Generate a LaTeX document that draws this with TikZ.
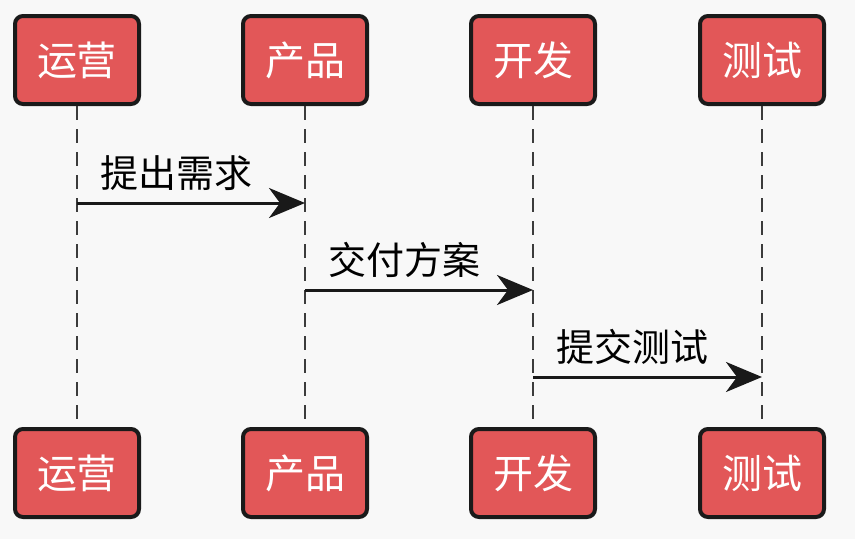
\documentclass[tikz,border=0pt]{standalone}
\usepackage{fontspec}
\newfontfamily\cjk{Noto Sans CJK SC}
\usetikzlibrary{arrows.meta}
\definecolor{bgc}{RGB}{248,248,248}
\definecolor{boxred}{RGB}{226,87,88}
\definecolor{edgec}{RGB}{26,26,26}
\tikzset{
  actor/.style={draw=edgec, line width=4pt, fill=boxred, rounded corners=8pt,
    minimum width=124pt, minimum height=88pt, inner sep=0pt,
    text=white, font=\cjk\fontsize{40}{44}\selectfont},
  lifeline/.style={draw=edgec!85, line width=1.2pt, dash pattern=on 14pt off 9pt},
  msg/.style={draw=black!90, line width=3pt,
    -{Stealth[length=36pt,width=30pt,inset=11pt]}},
  msglabel/.style={anchor=west, inner sep=0pt, font=\cjk\fontsize{38}{42}\selectfont, text=black}
}
\begin{document}
\begin{tikzpicture}[x=1pt,y=-1pt]
\fill[bgc] (0,0) rectangle (855,539);
\useasboundingbox (0,0) rectangle (855,539);
% top actors
\node[actor] (t1) at (77,60) {运营};
\node[actor] (t2) at (305,60) {产品};
\node[actor] (t3) at (533,60) {开发};
\node[actor] (t4) at (762,60) {测试};
% bottom actors
\node[actor] (b1) at (77,473) {运营};
\node[actor] (b2) at (305,473) {产品};
\node[actor] (b3) at (533,473) {开发};
\node[actor] (b4) at (762,473) {测试};
% lifelines
\foreach \i in {1,2,3,4}{\draw[lifeline] (t\i.south) -- (b\i.north);}
% message end points on lifelines
\coordinate (m1s) at (77,203);
\coordinate (m1e) at (305,203);
\coordinate (m2s) at (305,290);
\coordinate (m2e) at (533,290);
\coordinate (m3s) at (533,377);
\coordinate (m3e) at (762,377);
\draw[msg] (m1s) -- (m1e);
\draw[msg] (m2s) -- (m2e);
\draw[msg] (m3s) -- (m3e);
\node[msglabel] (l1) at ([xshift=23pt,yshift=30pt]m1s) {提出需求};
\node[msglabel] (l2) at ([xshift=23pt,yshift=30pt]m2s) {交付方案};
\node[msglabel] (l3) at ([xshift=23pt,yshift=30pt]m3s) {提交测试};
\end{tikzpicture}
\end{document}
